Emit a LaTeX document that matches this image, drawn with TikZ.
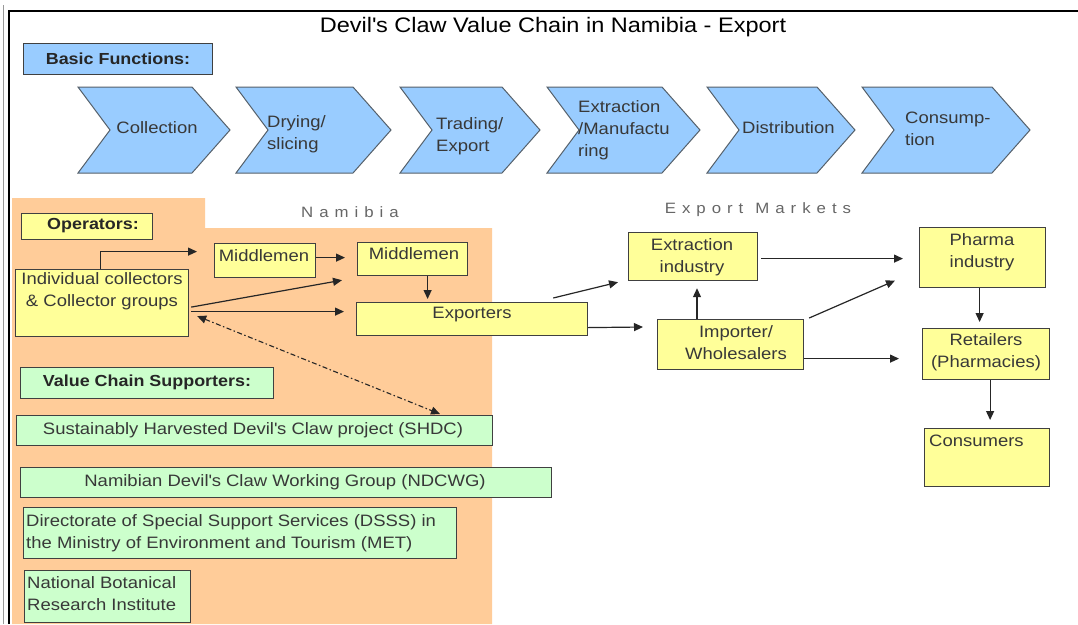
\documentclass[tikz,border=0pt]{standalone}
\usepackage{fontspec}
\setmainfont{Liberation Sans}[FakeStretch=1.12]
\newfontfamily\spacedfont{Liberation Sans}[LetterSpace=40,FakeStretch=1.12]
\usetikzlibrary{arrows.meta,calc}
\definecolor{chevblue}{HTML}{99CCFF}
\definecolor{chevline}{HTML}{55606A}
\definecolor{peach}{HTML}{FFCC99}
\definecolor{yel}{HTML}{FFFF99}
\definecolor{mint}{HTML}{CCFFCC}
\definecolor{txt}{HTML}{383838}
\begin{document}
\begin{tikzpicture}[x=1pt,y=-1pt,
  box/.style={draw=black!75, line width=1.2pt, inner sep=0pt, anchor=north west},
  ybox/.style={box, fill=yel},
  gbox/.style={box, fill=mint},
  bbox/.style={box, fill=chevblue},
  tx/.style={text=txt, font=\fontsize{16.5}{22}\selectfont, inner sep=0pt, align=center},
  txl/.style={tx, align=left, anchor=west},
  bold/.style={text=black!85, font=\fontsize{16}{20}\selectfont\bfseries, inner sep=0pt},
  arr/.style={line width=1.2pt, draw=black!85, -{Triangle[length=9pt,width=8pt]}},
  chev/.style={fill=chevblue, draw=chevline, line width=1pt},
  region/.style={text=black!60, font=\fontsize{15}{18}\spacedfont, inner sep=0pt}
]
\useasboundingbox (0,0) rectangle (1078,624);
\fill[white] (0,0) rectangle (1078,624);
% frame
\draw[line width=2.2pt, black] (9,624) -- (9,11) -- (1078,11);
\draw[line width=0.5pt, black!40] (3,624) -- (3,5);

% title
\node[text=black, font=\fontsize{21}{24}\selectfont, inner sep=0pt] (title) at (553,27) {Devil\textquotesingle s Claw Value Chain in Namibia - Export};

% basic functions
\node[bbox, minimum width=189pt, minimum height=31pt] (basic) at (23,43) {};
\node[bold] (basict) at (118,59) {Basic Functions:};

% chevrons
\foreach \L/\R in {78/230, 236/391, 400/540, 547/700, 707/855, 862/1030}{
  \draw[chev] (\L,87) -- (\R-38,87) -- (\R,130) -- (\R-38,173) -- (\L,173) -- (\L+32,130) -- cycle;
}
\node[tx] (f1) at (157,128) {Collection};
\node[txl] (f2) at (267,134) {Drying/\\slicing};
\node[txl] (f3) at (436,136) {Trading/\\Export};
\node[txl] (f4) at (578,130.5) {Extraction\\/Manufactu\\ring};
\node[txl] (f5) at (742,128) {Distribution};
\node[txl] (f6) at (905,129) {Consump-\\tion};

% Namibia region
\fill[peach] (12,198) -- (205,198) -- (205,228) -- (492,228) -- (492,624) -- (12,624) -- cycle;
\node[region] (nam) at (350,212) {Namibia};
\node[region] (exm) at (758,210) {Export\hspace{12pt}Markets};

% operators
\node[ybox, minimum width=131pt, minimum height=26pt] (ops) at (21,213) {};
\node[bold] (opst) at (93,226) {Operators:};

\node[ybox, minimum width=173pt, minimum height=67pt] (ind) at (15,269) {};
\node[tx] (indt) at (102,291) {Individual collectors\\\& Collector groups};

\node[ybox, minimum width=101pt, minimum height=34pt] (m1) at (214,243) {};
\node[tx] (m1t) at (264,256) {Middlemen};

\node[ybox, minimum width=110pt, minimum height=33pt] (m2) at (357,242) {};
\node[tx] (m2t) at (414,254) {Middlemen};

\node[ybox, minimum width=231pt, minimum height=33pt] (exp) at (356,302) {};
\node[tx] (expt) at (472,315) {Exporters};

% export markets
\node[ybox, minimum width=129pt, minimum height=48pt] (ext) at (628,232) {};
\node[tx] (extt) at (692,257) {Extraction\\industry};

\node[ybox, minimum width=146pt, minimum height=50pt] (imp) at (657,319) {};
\node[tx] (impt) at (736,343) {Importer/\\Wholesalers};

\node[ybox, minimum width=126pt, minimum height=60pt] (pha) at (919,227) {};
\node[tx] (phat) at (982,252) {Pharma\\industry};

\node[ybox, minimum width=127pt, minimum height=51pt] (ret) at (922,328) {};
\node[tx] (rett) at (986,352) {Retailers\\(Pharmacies)};

\node[ybox, minimum width=125pt, minimum height=58pt] (con) at (924,428) {};
\node[txl] (cont) at (929,441) {Consumers};

% supporters
\node[gbox, minimum width=253pt, minimum height=31pt] (vcs) at (20,367) {};
\node[bold] (vcst) at (147,382) {Value Chain Supporters:};

\node[gbox, minimum width=476pt, minimum height=30pt] (shdc) at (16,415) {};
\node[tx] (shdct) at (253,430) {Sustainably Harvested Devil\textquotesingle s Claw project (SHDC)};

\node[gbox, minimum width=531pt, minimum height=30pt] (ndc) at (20,467) {};
\node[tx] (ndct) at (285,482) {Namibian Devil\textquotesingle s Claw Working Group (NDCWG)};

\node[gbox, minimum width=433pt, minimum height=51pt] (dsss) at (23,507) {};
\node[txl] (dssst) at (26,533) {Directorate of Special Support Services (DSSS) in\\the Ministry of Environment and Tourism (MET)};

\node[gbox, minimum width=166pt, minimum height=52pt] (nbri) at (24,570) {};
\node[txl] (nbrit) at (27,594) {National Botanical\\Research Institute};

% connectors (Namibia)
\draw[arr] ([xshift=-1.5pt]ind.north) |- ($(m1.west)+(-17,-9)$);
\draw[arr] ($(m1.east)+(0,-3)$) -- ($(m2.west |- m1.east)+(-12,-3)$);
\draw[arr] ($(ind.east)+(2,4)$) -- ($(m2.south west)+(-15,4)$);
\draw[arr] ($(ind.east)+(2,8.5)$) -- ($(exp.west)+(-12,-7.5)$);
\draw[arr] ($(m2.south)+(15,0)$) -- ($(m2.south |- exp.north)+(15,-3)$);
\draw[line width=1.1pt, draw=black!85, dash pattern=on 5pt off 2.5pt on 1.5pt off 2.5pt,
      {Triangle[length=9pt,width=8pt]}-{Triangle[length=9pt,width=8pt]}]
      ($(ind.east)+(8,13)$) -- ($(shdc.north west)+(424,-1)$);

% connectors (export)
\draw[arr] ($(exp.north east)+(-35,-4)$) -- ($(ext.south west)+(-10,1)$);
\draw[arr] ($(exp.east)+(0,8.5)$) -- ($(imp.north west)+(-14,8)$);
\draw[arr] ($(imp.north west)+(40,0)$) -- ($(ext.south west)+(69,7)$);
\draw[arr] ($(ext.east)+(3,2)$) -- ($(pha.west)+(-16,1)$);
\draw[arr] ($(imp.north east)+(5,-1)$) -- ($(pha.west)+(-24,23)$);
\draw[arr] ($(imp.east)+(0,14)$) -- ($(ret.west)+(-23,4.5)$);
\draw[arr] ($(pha.south)+(-3,0)$) -- ($(pha.south |- ret.north)+(-3,-6)$);
\draw[arr] ($(ret.south)+(4,0)$) -- ($(ret.south |- con.north)+(4,-8)$);
\end{tikzpicture}
\end{document}
